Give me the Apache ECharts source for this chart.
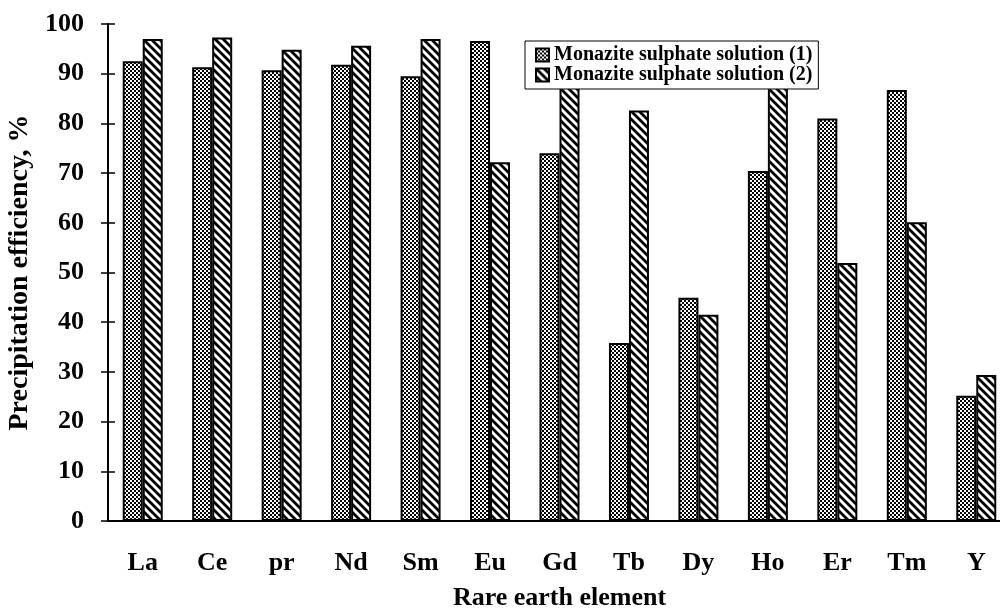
<!DOCTYPE html>
<html>
<head>
<meta charset="utf-8">
<script src="https://cdn.jsdelivr.net/npm/echarts@6/dist/echarts.min.js"></script>
<style>html,body{margin:0;padding:0;background:#fff}#c{width:1000px;height:611px}</style>
</head>
<body>
<div id="c"></div>
<script>
var categories = ['La','Ce','pr','Nd','Sm','Eu','Gd','Tb','Dy','Ho','Er','Tm','Y'];
var seriesNames = ['Monazite sulphate solution (1)','Monazite sulphate solution (2)'];
var solution1 = [92.5, 91.3, 90.7, 91.8, 89.5, 96.6, 74.0, 35.8, 44.9, 70.4, 81.0, 86.7, 25.2];
var solution2 = [97.0, 97.3, 94.8, 95.6, 97.0, 72.2, 89.0, 82.6, 41.5, 89.5, 51.9, 60.1, 29.4];
var yTicks = {min: 0, max: 100, interval: 10};

function checker() {
  var c = document.createElement('canvas'); c.width = 4; c.height = 4;
  var g = c.getContext('2d');
  g.fillStyle = '#fff'; g.fillRect(0,0,4,4);
  g.fillStyle = '#000'; g.fillRect(0,0,2,2); g.fillRect(2,2,2,2);
  return c;
}
function stripes() {
  var c = document.createElement('canvas'); c.width = 8; c.height = 8;
  var g = c.getContext('2d');
  g.fillStyle = '#fff'; g.fillRect(0,0,8,8);
  g.strokeStyle = '#000'; g.lineWidth = 2.8;
  g.beginPath();
  g.moveTo(-2,-2); g.lineTo(10,10);
  g.moveTo(-10,-2); g.lineTo(2,10);
  g.moveTo(6,-2); g.lineTo(18,10);
  g.stroke();
  return c;
}
var font = 'Liberation Serif, Times New Roman, serif';
var chart = echarts.init(document.getElementById('c'), null, {renderer: 'canvas'});
chart.setOption({
  animation: false,
  backgroundColor: '#fff',
  textStyle: {fontFamily: font},
  grid: {left: 108, right: -11, top: 24, bottom: 90, outerBoundsMode: 'none', containLabel: false},
  legend: {
    left: 525, top: 41, orient: 'vertical',
    backgroundColor: '#fff', borderColor: '#000', borderWidth: 1,
    padding: [4, 6, 4, 10], itemGap: 0, itemWidth: 13, itemHeight: 13,
    icon: 'rect',
    textStyle: {fontFamily: font, fontWeight: 'bold', fontSize: 20, color: '#000', lineHeight: 18},
    data: seriesNames
  },
  xAxis: [{
    type: 'category', data: categories,
    axisLine: {lineStyle: {color: '#000', width: 2}},
    axisTick: {show: false},
    axisLabel: {margin: 29, fontFamily: font, fontWeight: 'bold', fontSize: 26, color: '#000'},
    name: 'Rare earth element', nameLocation: 'middle', nameGap: 64,
    nameTextStyle: {fontFamily: font, fontWeight: 'bold', fontSize: 26, color: '#000'}
  }, {
    type: 'category', data: categories, position: 'top',
    axisLine: {lineStyle: {color: '#000', width: 2}},
    axisTick: {show: false}, axisLabel: {show: false}
  }],
  yAxis: [{
    type: 'value', min: yTicks.min, max: yTicks.max, interval: yTicks.interval,
    axisLine: {show: true, lineStyle: {color: '#000', width: 2}},
    axisTick: {show: true, length: 7, lineStyle: {color: '#000', width: 1.5}},
    splitLine: {show: false},
    axisLabel: {margin: 24, fontFamily: font, fontWeight: 'bold', fontSize: 26, color: '#000'},
    name: 'Precipitation efficiency, %', nameLocation: 'middle', nameGap: 72,
    nameTextStyle: {fontFamily: font, fontWeight: 'bold', fontSize: 28, color: '#000'}
  }, {
    type: 'value', position: 'left', min: yTicks.min, max: yTicks.max, interval: yTicks.interval,
    axisLine: {show: false},
    axisTick: {show: true, inside: true, length: 7, lineStyle: {color: '#000', width: 1.5}},
    splitLine: {show: false}, axisLabel: {show: false}
  }],
  series: [{
    name: seriesNames[0], type: 'bar', data: solution1, barWidth: 20, barGap: '0%',
    itemStyle: {color: {image: checker(), repeat: 'repeat'}, borderColor: '#000', borderWidth: 2}
  }, {
    name: seriesNames[1], type: 'bar', data: solution2, barWidth: 20, barGap: '0%',
    itemStyle: {color: {image: stripes(), repeat: 'repeat'}, borderColor: '#000', borderWidth: 2}
  }]
});
</script>
</body>
</html>
